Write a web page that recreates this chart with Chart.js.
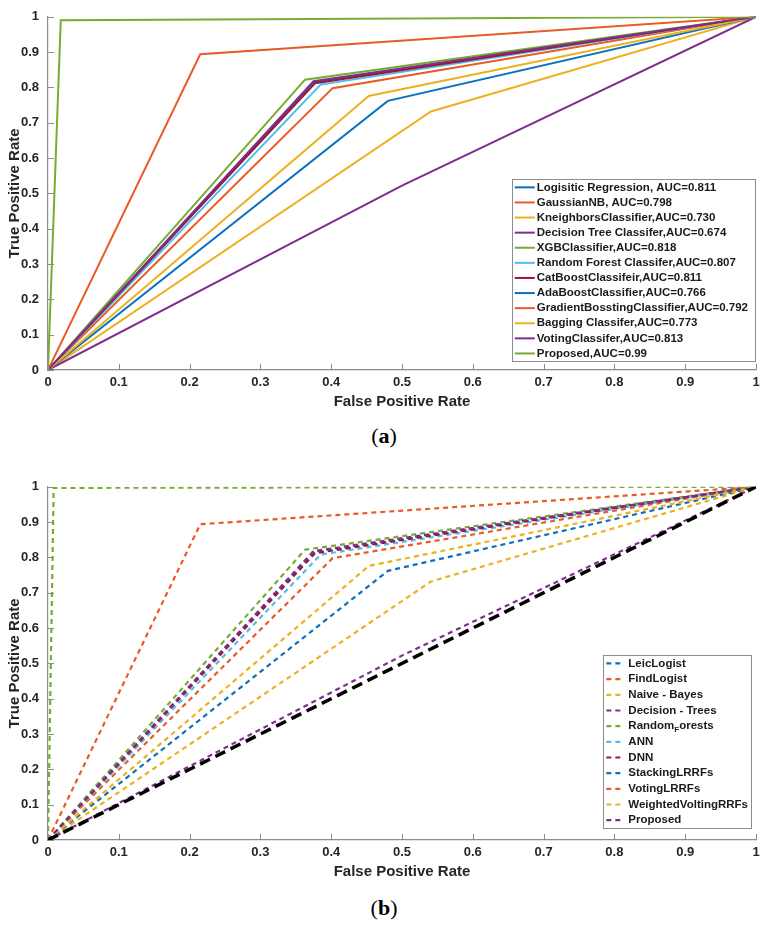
<!DOCTYPE html>
<html>
<head>
<meta charset="utf-8">
<title>ROC curves</title>
<script src="https://cdn.jsdelivr.net/npm/chart.js@4.4.1/dist/chart.umd.min.js"></script>
<style>
  html, body { margin: 0; padding: 0; background: #fff; }
  body { width: 768px; height: 932px; position: relative; overflow: hidden; }
  canvas { position: absolute; left: 0; }
  #rocA { top: 0; }
  #rocB { top: 470px; }
  .panel-tag {
    position: absolute; left: 0; width: 768px; text-align: center;
    font-family: "Liberation Serif", "DejaVu Serif", serif;
    font-size: 22px; line-height: 28px; color: #000;
  }
</style>
</head>
<body>
<canvas id="rocA" width="768" height="420"></canvas>
<div class="panel-tag" style="top:422px">(<b>a</b>)</div>
<canvas id="rocB" width="768" height="420"></canvas>
<div class="panel-tag" style="top:894px">(<b>b</b>)</div>

<script>
// ---- values ----
const tickValues = [0, 0.1, 0.2, 0.3, 0.4, 0.5, 0.6, 0.7, 0.8, 0.9, 1];

// panel (a): each curve is (0,0) -> (fpr, tpr) -> (1,1)
const modelsA = [
    'Logisitic Regression, AUC=0.811',
    'GaussianNB, AUC=0.798',
    'KneighborsClassifier,AUC=0.730',
    'Decision Tree Classifer,AUC=0.674',
    'XGBClassifier,AUC=0.818',
    'Random Forest Classifer,AUC=0.807',
    'CatBoostClassifeir,AUC=0.811',
    'AdaBoostClassifier,AUC=0.766',
    'GradientBosstingClassifier,AUC=0.792',
    'Bagging Classifer,AUC=0.773',
    'VotingClassifer,AUC=0.813',
    'Proposed,AUC=0.99'
];
const fprA = [0.375, 0.402, 0.541, 0.500, 0.363, 0.385, 0.377, 0.480, 0.215, 0.453, 0.375, 0.018];
const tprA = [0.815, 0.798, 0.732, 0.522, 0.822, 0.808, 0.812, 0.762, 0.894, 0.776, 0.818, 0.990];

// panel (b): 12 curves, only the first 11 are in the legend, plus the chance line
const modelsB = [
    'LeicLogist', 'FindLogist', 'Naive - Bayes', 'Decision - Trees', 'Random_Forests',
    'ANN', 'DNN', 'StackingLRRFs', 'VotingLRRFs', 'WeightedVoltingRRFs', 'Proposed'
];
const fprB = [0.375, 0.402, 0.541, 0.500, 0.363, 0.385, 0.377, 0.480, 0.215, 0.453, 0.375, 0.008];
const tprB = [0.815, 0.798, 0.732, 0.522, 0.822, 0.808, 0.812, 0.762, 0.894, 0.776, 0.818, 0.997];
const chanceFpr = [0, 1];
const chanceTpr = [0, 1];

// MATLAB default line colour order (a touch brighter, as in the scan)
const lineColors = ['#0A72BC', '#EA5A25', '#EDB120', '#7E2F8E', '#77AC30', '#4DBEEE', '#A2142F'];

const tickFont = { family: '"Liberation Sans", Arial, sans-serif', size: 13, weight: 'bold' };
const titleFont = { family: '"Liberation Sans", Arial, sans-serif', size: 15, weight: 'bold' };
const textColor = '#262626';
const axisColor = '#8c8c8c';

// split "Random_Forests" into normal / subscript pieces (TeX style, like MATLAB)
function labelParts(text) {
    const parts = [];
    text.split(/_(.)/).forEach((s, i) => { if (s) parts.push({ s, sub: i % 2 === 1 }); });
    return parts;
}

function labelWidth(ctx, text, o) {
    let w = 0;
    labelParts(text).forEach(p => {
        ctx.font = p.sub ? o.subFont : o.font;
        w += ctx.measureText(p.s).width;
    });
    return w;
}

function drawLabel(ctx, text, x, y, o) {
    labelParts(text).forEach(p => {
        ctx.font = p.sub ? o.subFont : o.font;
        ctx.fillText(p.s, x, p.sub ? y + 4 : y);
        x += ctx.measureText(p.s).width;
    });
}

// inward tick marks, as MATLAB draws them
const innerTicks = {
    id: 'innerTicks',
    beforeDatasetsDraw(chart, args, o) {
        const { ctx, chartArea: ca, scales: { x, y } } = chart;
        ctx.save();
        ctx.strokeStyle = axisColor;
        ctx.lineWidth = 1;
        ctx.beginPath();
        x.ticks.forEach(t => {
            const px = Math.round(x.getPixelForValue(t.value)) + 0.5;
            ctx.moveTo(px, ca.bottom);
            ctx.lineTo(px, ca.bottom - o.len);
        });
        y.ticks.forEach(t => {
            const py = Math.round(y.getPixelForValue(t.value)) + 0.5;
            ctx.moveTo(ca.left, py);
            ctx.lineTo(ca.left + o.len, py);
        });
        ctx.stroke();
        ctx.restore();
    }
};

// boxed legend inside the lower right corner of the plot
const boxLegend = {
    id: 'boxLegend',
    afterDraw(chart, args, o) {
        const { ctx, chartArea: ca } = chart;
        const items = chart.data.datasets.filter(d => d.label);
        ctx.save();
        const widest = Math.max(...items.map(d => labelWidth(ctx, d.label, o)));
        const w = o.padLeft + o.sample + o.gap + widest + o.padRight;
        const h = o.row * items.length + 2;
        const right = ca.right - o.right;
        const bottom = ca.bottom - o.bottom;
        const left = right - w;
        const top = bottom - h;

        ctx.fillStyle = '#fff';
        ctx.fillRect(left, top, w, h);
        ctx.strokeStyle = axisColor;
        ctx.lineWidth = 1;
        ctx.strokeRect(Math.round(left) + 0.5, Math.round(top) + 0.5, Math.round(w) - 1, Math.round(h) - 1);

        ctx.textBaseline = 'middle';
        ctx.textAlign = 'left';
        items.forEach((d, i) => {
            const cy = top + 1 + o.row * (i + 0.5);
            ctx.beginPath();
            ctx.setLineDash(d.borderDash || []);
            ctx.strokeStyle = d.borderColor;
            ctx.lineWidth = d.borderWidth;
            ctx.moveTo(left + o.padLeft, cy);
            ctx.lineTo(left + o.padLeft + o.sample, cy);
            ctx.stroke();
            ctx.setLineDash([]);
            ctx.fillStyle = '#1a1a1a';
            drawLabel(ctx, d.label, left + o.padLeft + o.sample + o.gap, cy, o);
        });
        ctx.restore();
    }
};

function rocDatasets(names, fpr, tpr, width, dash) {
    return fpr.map((f, i) => ({
        label: names[i] || '',
        data: [{ x: 0, y: 0 }, { x: f, y: tpr[i] }, { x: 1, y: 1 }],
        borderColor: lineColors[i % lineColors.length],
        borderWidth: width,
        borderDash: dash,
        order: -i   // later curves on top, like MATLAB
    }));
}

function axis(title, isX) {
    return {
        type: 'linear',
        min: 0,
        max: 1,
        afterBuildTicks: s => { s.ticks = tickValues.map(v => ({ value: v })); },
        afterFit: s => { if (isX) s.height = 50; else s.width = 48; },
        ticks: {
            autoSkip: false,
            maxRotation: 0,
            padding: isX ? 5 : 9,
            color: textColor,
            font: tickFont,
            callback: v => String(Number(v.toFixed(1)))
        },
        grid: { display: false, drawTicks: false },
        border: { display: true, color: axisColor, width: 1.2 },
        title: {
            display: true,
            text: title,
            color: textColor,
            font: titleFont,
            padding: isX ? { top: 0, bottom: 9 } : { top: 6, bottom: 0 }
        }
    };
}

function renderRoc(canvasId, datasets, legendOpts) {
    const ctx = document.getElementById(canvasId).getContext('2d');
    return new Chart(ctx, {
        type: 'line',
        data: { datasets },
        options: {
            responsive: false,
            animation: false,
            devicePixelRatio: 1,
            layout: { padding: { top: 15, right: 12, bottom: 0, left: 0 } },
            elements: { point: { radius: 0 }, line: { tension: 0 } },
            scales: {
                x: axis('False Positive Rate', true),
                y: axis('True Positive Rate', false)
            },
            plugins: {
                legend: { display: false },
                tooltip: { enabled: false },
                innerTicks: { len: 6 },
                boxLegend: Object.assign({
                    font: 'bold 11.5px "Liberation Sans", Arial, sans-serif',
                    subFont: 'bold 8px "Liberation Sans", Arial, sans-serif'
                }, legendOpts)
            }
        },
        plugins: [innerTicks, boxLegend]
    });
}

// panel (a): solid lines
renderRoc('rocA', rocDatasets(modelsA, fprA, tprA, 2, []),
    { right: 0, bottom: 8, row: 15.1, padLeft: 3, sample: 20, gap: 2, padRight: 8 });

// panel (b): dashed lines + black chance line
const datasetsB = rocDatasets(modelsB, fprB, tprB, 2.2, [5, 4]);
datasetsB.push({
    label: '',
    data: chanceFpr.map((f, i) => ({ x: f, y: chanceTpr[i] })),
    borderColor: '#000',
    borderWidth: 3.5,
    borderDash: [11, 6],
    order: -datasetsB.length
});
renderRoc('rocB', datasetsB,
    { right: 4, bottom: 11, row: 15.67, padLeft: 3, sample: 16, gap: 6, padRight: 4 });
</script>
</body>
</html>
